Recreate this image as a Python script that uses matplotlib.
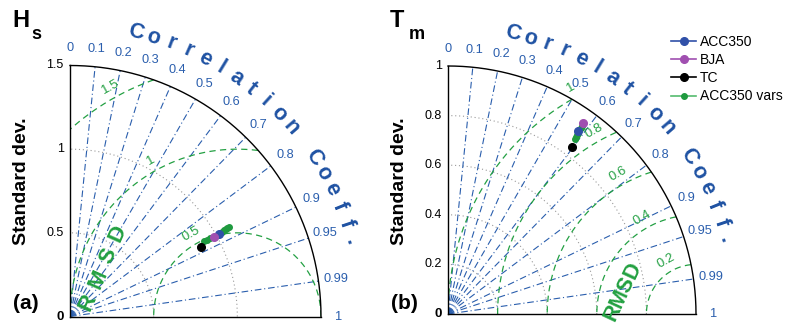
import numpy as np
import matplotlib.pyplot as plt

plt.rcParams['font.family'] = ['Liberation Sans', 'DejaVu Sans']

# correlation ticks (shared)
cor_ticks = [0, 0.1, 0.2, 0.3, 0.4, 0.5, 0.6, 0.7, 0.8, 0.9, 0.95, 0.99, 1]
cor_labels = ['0', '0.1', '0.2', '0.3', '0.4', '0.5', '0.6', '0.7', '0.8', '0.9', '0.95', '0.99', '1']

# panel (a): Hs
hs_std_max = 1.5
hs_std_ticks = [0.5, 1, 1.5]
hs_std_labels = ['0.5', '1', '1.5']
hs_std_rings = [0.5, 1.0]
hs_rms = [0.5, 1.0, 1.5]
hs_rms_labels = ['0.5', '1', '1.5']
hs_acc350_std = [1.016]
hs_acc350_cor = [0.875]
hs_bja_std = [0.984]
hs_bja_cor = [0.877]
hs_tc_std = [0.886]
hs_tc_cor = [0.885]
hs_vars_std = [0.92, 0.94, 0.96, 0.99, 1.02, 1.04, 1.055, 1.07, 1.08, 1.09]
hs_vars_cor = [0.872, 0.873, 0.874, 0.876, 0.874, 0.873, 0.872, 0.872, 0.871, 0.872]

# panel (b): Tm
tm_std_max = 1.0
tm_std_ticks = [0.2, 0.4, 0.6, 0.8, 1]
tm_std_labels = ['0.2', '0.4', '0.6', '0.8', '1']
tm_std_rings = [0.2, 0.4, 0.6, 0.8]
tm_rms = [0.2, 0.4, 0.6, 0.8, 1.0]
tm_rms_labels = ['0.2', '0.4', '0.6', '0.8', '1']
tm_acc350_std = [0.906]
tm_acc350_cor = [0.580]
tm_bja_std = [0.945]
tm_bja_cor = [0.578]
tm_tc_std = [0.839]
tm_tc_cor = [0.595]
tm_vars_std = [0.87, 0.88, 0.89, 0.90, 0.91, 0.92, 0.93]
tm_vars_cor = [0.588, 0.587, 0.585, 0.584, 0.582, 0.581, 0.580]

blue = '#2a5ead'
dblue = '#1f52a3'
green = '#23a043'
purple = '#a04fb0'

W, H = 788, 325
fig = plt.figure(figsize=(W / 100, H / 100), dpi=100)


def xy(std, cor):
    std = np.asarray(std)
    a = np.arccos(np.asarray(cor))
    return std * np.cos(a), std * np.sin(a)


def panel(ox, oy, rpx, rmax, std_ticks, std_labels, rings, rms, rms_labels,
          series, rmsd_letters, rmsd_pos, rmsd_rot, rmsd_fs, name, sub, tag):
    ax = fig.add_axes([ox / W, (H - oy) / H, rpx / W, rpx / H])
    ax.set_xlim(0, rmax)
    ax.set_ylim(0, rmax)
    ax.axis('off')
    t = np.linspace(0, np.pi / 2, 400)
    for s in rings:
        ax.plot(s * np.cos(t), s * np.sin(t), color='#9a9a9a', lw=0.8, ls=(0, (1, 2.5)))
    for c in cor_ticks[1:-1]:
        a = np.arccos(c)
        ax.plot([0, rmax * np.cos(a)], [0, rmax * np.sin(a)], color=blue, lw=0.8,
                ls=(0, (6, 2.5, 1, 2.5)))
    p = np.linspace(0, np.pi, 800)
    for r, lab in zip(rms, rms_labels):
        x = 1 + r * np.cos(p)
        y = r * np.sin(p)
        m = (x >= 0) & (x ** 2 + y ** 2 <= rmax ** 2)
        ax.plot(np.where(m, x, np.nan), y, color=green, lw=0.9, ls=(0, (5, 3.5)))
        la = np.radians(119)
        rr = r + 0.045 * rmax
        ax.text(1 + rr * np.cos(la), rr * np.sin(la), lab, color=green, fontsize=9.5,
                rotation=29, ha='center', va='center')
    # frame
    ax.plot(rmax * np.cos(t), rmax * np.sin(t), color='black', lw=1.0, clip_on=False)
    ax.plot([0, 0], [0, rmax], color='black', lw=1.0, clip_on=False)
    ax.plot([0, rmax], [0, 0], color='black', lw=1.0, clip_on=False)
    # std labels
    for v, lab in zip(std_ticks, std_labels):
        ax.text(-0.025 * rmax, v, lab, fontsize=9, ha='right', va='center')
    ax.text(-0.025 * rmax, 0, '0', fontsize=9.5, fontweight='bold', ha='right', va='center')
    # correlation labels
    for c, lab in zip(cor_ticks, cor_labels):
        a = np.arccos(c)
        ax.text(1.07 * rmax * np.cos(a), 1.07 * rmax * np.sin(a), lab, color=blue,
                fontsize=9.2, ha='center', va='center')
    # arc title
    title = 'Correlation Coeff.'
    for i, ch in enumerate(title):
        a = np.radians(77 - 3.65 * i)
        ax.text(1.16 * rmax * np.cos(a), 1.16 * rmax * np.sin(a), ch, color=dblue,
                fontsize=15.5, fontweight='bold', rotation=np.degrees(a) - 90,
                ha='center', va='center')
    # RMSD label
    (x0, y0), (x1, y1) = rmsd_pos
    n = len(rmsd_letters)
    for i, ch in enumerate(rmsd_letters):
        f = i / (n - 1)
        ax.text(rmax * (x0 + f * (x1 - x0)), rmax * (y0 + f * (y1 - y0)), ch,
                color='#22a040', fontsize=rmsd_fs, fontweight='bold', rotation=rmsd_rot,
                ha='center', va='center')
    # data
    handles = []
    for std, cor, col, lc, ms, lab in series:
        x, y = xy(std, cor)
        ln, = ax.plot(x, y, '-o', color=lc, mfc=col, mec=col, ms=ms, lw=1.2, label=lab,
                      clip_on=False)
        handles.append(ln)
    # texts
    fig.text((ox - 48) / W, (H - 181) / H, 'Standard dev.', rotation=90, fontsize=14,
             fontweight='bold', ha='center', va='center')
    fig.text((ox - 58) / W, (H - 27) / H, name, fontsize=17, fontweight='bold',
             ha='left', va='baseline')
    fig.text((ox - 58) / W + 0.024, (H - 39) / H, sub, fontsize=13, fontweight='bold',
             ha='left', va='baseline')
    fig.text((ox - 57) / W, (H - 309) / H, tag, fontsize=15, fontweight='bold',
             ha='left', va='baseline')
    return handles


panel(70, 316.5, 251, hs_std_max, hs_std_ticks, hs_std_labels, hs_std_rings, hs_rms,
      hs_rms_labels,
      [(hs_vars_std, hs_vars_cor, '#1f9a3f', '#55bb6e', 4, 'ACC350 vars'),
       (hs_acc350_std, hs_acc350_cor, '#3050a8', '#3050a8', 5.5, 'ACC350'),
       (hs_bja_std, hs_bja_cor, purple, purple, 5.5, 'BJA'),
       (hs_tc_std, hs_tc_cor, 'black', 'black', 5.5, 'TC')],
      'RMSD', [(0.072, 0.058), (0.192, 0.33)], 66, 16, 'H', 's', '(a)')

hb = panel(448, 314, 248, tm_std_max, tm_std_ticks, tm_std_labels, tm_std_rings, tm_rms,
           tm_rms_labels,
           [(tm_vars_std, tm_vars_cor, '#1f9a3f', '#55bb6e', 4, 'ACC350 vars'),
            (tm_acc350_std, tm_acc350_cor, '#3050a8', '#3050a8', 5.5, 'ACC350'),
            (tm_bja_std, tm_bja_cor, purple, purple, 5.5, 'BJA'),
            (tm_tc_std, tm_tc_cor, 'black', 'black', 5.5, 'TC')],
           'RMSD', [(0.706 - 0.04, 0.089 - 0.085), (0.706 + 0.04, 0.089 + 0.085)], 65, 15.5,
           'T', 'm', '(b)')

order = [1, 2, 3, 0]
fig.legend([hb[i] for i in order], [hb[i].get_label() for i in order],
           loc='upper left', bbox_to_anchor=(671 / W, (H - 35) / H), frameon=False,
           fontsize=10, handlelength=1.8, handletextpad=0.3, labelspacing=0.3,
           borderpad=0, borderaxespad=0)

fig.savefig('out.png', dpi=100)
